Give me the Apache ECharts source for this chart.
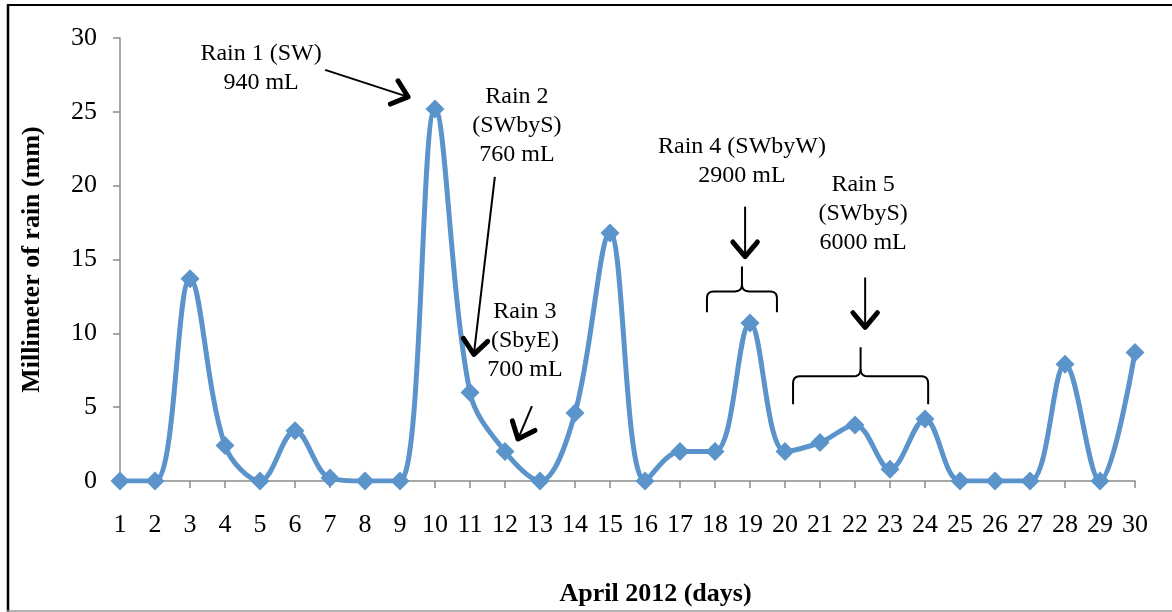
<!DOCTYPE html>
<html>
<head>
<meta charset="utf-8">
<script src="https://cdn.jsdelivr.net/npm/echarts@6/dist/echarts.min.js"></script>
<style>
  html, body { margin: 0; padding: 0; background: #fff; }
  #chart { width: 1172px; height: 612px; }
</style>
</head>
<body>
<div id="chart"></div>
<script>
const days = [1, 2, 3, 4, 5, 6, 7, 8, 9, 10, 11, 12, 13, 14, 15, 16, 17, 18, 19, 20, 21, 22, 23, 24, 25, 26, 27, 28, 29, 30];
const rain = [0, 0, 13.7, 2.4, 0, 3.4, 0.2, 0, 0, 25.2, 6.0, 2.0, 0, 4.6, 16.8, 0, 2.0, 2.0, 10.7, 2.0, 2.6, 3.8, 0.8, 4.2, 0, 0, 0, 7.9, 0, 8.7];
const yTicks = [0, 5, 10, 15, 20, 25, 30];

// notes placed in data space: [day, mm]
const noteTexts = ['Rain 1 (SW)\n940 mL', 'Rain 2\n(SWbyS)\n760 mL', 'Rain 3\n(SbyE)\n700 mL', 'Rain 4 (SWbyW)\n2900 mL', 'Rain 5\n(SWbyS)\n6000 mL'];
const noteAt = [[5.03, 27.94], [12.34, 24.05], [12.57, 9.53], [18.77, 21.66], [22.23, 18.1]];
const arrows = [[6.86, 27.84, 9.23, 26.01], [11.71, 20.6, 11.11, 8.58], [12.77, 5.07, 12.37, 2.84], [18.86, 18.58, 18.86, 15.2], [22.29, 13.78, 22.29, 10.41]];
// x1, x2, tip, middle, bottom
const braces = [[17.77, 19.77, 14.53, 12.84, 11.42], [20.23, 24.09, 9.05, 7.09, 5.2]];

const font = 'Liberation Serif, Times New Roman, serif';
const chart = echarts.init(document.getElementById('chart'));

chart.setOption({
  animation: false,
  grid: { left: 120, right: 37, top: 38, bottom: 130, containLabel: false },
  xAxis: {
    type: 'value',
    min: 1,
    max: 30,
    interval: 1,
    name: 'April 2012 (days)',
    nameLocation: 'middle',
    nameGap: 100,
    nameTextStyle: { fontFamily: font, fontSize: 26, fontWeight: 'bold', color: '#000', padding: [0, 0, 0, 56] },
    axisLine: { lineStyle: { color: '#8c8c8c', width: 1.5 } },
    axisTick: { show: true, length: 7, lineStyle: { color: '#8c8c8c', width: 1.5 } },
    axisLabel: { fontFamily: font, fontSize: 26, color: '#000', margin: 31 },
    splitLine: { show: false }
  },
  yAxis: {
    type: 'value',
    min: 0,
    max: 30,
    interval: 5,
    name: 'Millimeter of rain (mm)',
    nameLocation: 'middle',
    nameGap: 75,
    nameTextStyle: { fontFamily: font, fontSize: 26, fontWeight: 'bold', color: '#000' },
    axisLine: { show: true, lineStyle: { color: '#8c8c8c', width: 1.5 } },
    axisTick: { show: true, length: 7, lineStyle: { color: '#8c8c8c', width: 1.5 } },
    axisLabel: {
      fontFamily: font, fontSize: 26, color: '#000', margin: 23,
      formatter: v => (yTicks.indexOf(v) >= 0 ? String(v) : '')
    },
    splitLine: { show: false }
  },
  series: [{
    type: 'line',
    data: days.map((d, i) => [d, rain[i]]),
    smooth: 0.35,
    symbol: 'diamond',
    symbolSize: 19,
    showAllSymbol: true,
    lineStyle: { color: '#5b93cb', width: 5 },
    itemStyle: { color: '#5b93cb' }
  }]
});

function px(x, y) {
  return chart.convertToPixel({ gridIndex: 0 }, [x, y]);
}

// points along a quadratic curve, for the brace corners
function quad(p0, c, p1) {
  const out = [];
  for (let t = 0.2; t <= 1.0001; t += 0.2) {
    const u = 1 - t;
    out.push([u * u * p0[0] + 2 * u * t * c[0] + t * t * p1[0], u * u * p0[1] + 2 * u * t * c[1] + t * t * p1[1]]);
  }
  return out;
}

const graphic = [];
// frame
graphic.push({ type: 'line', shape: { x1: 7, y1: 5, x2: 1172, y2: 5 }, style: { stroke: '#000', lineWidth: 2 } });
graphic.push({ type: 'line', shape: { x1: 8, y1: 4, x2: 8, y2: 612 }, style: { stroke: '#000', lineWidth: 2.5 } });
graphic.push({ type: 'line', shape: { x1: 7, y1: 611, x2: 1172, y2: 611 }, style: { stroke: '#999', lineWidth: 1.5 } });

noteTexts.forEach((t, i) => {
  const p = px(noteAt[i][0], noteAt[i][1]);
  graphic.push({
    type: 'text', x: p[0], y: p[1], z: 10,
    style: { text: t, font: '24px ' + font, fill: '#000', align: 'center', verticalAlign: 'middle', lineHeight: 29 }
  });
});

arrows.forEach(a => {
  const s = px(a[0], a[1]);
  const e = px(a[2], a[3]);
  const ang = Math.atan2(e[1] - s[1], e[0] - s[0]);
  const len = 19, spread = 0.7;
  graphic.push({ type: 'line', z: 10, shape: { x1: s[0], y1: s[1], x2: e[0], y2: e[1] }, style: { stroke: '#000', lineWidth: 2 } });
  graphic.push({
    type: 'polyline', z: 10,
    shape: { points: [
      [e[0] - len * Math.cos(ang - spread), e[1] - len * Math.sin(ang - spread)],
      [e[0], e[1]],
      [e[0] - len * Math.cos(ang + spread), e[1] - len * Math.sin(ang + spread)]
    ] },
    style: { stroke: '#000', lineWidth: 5, fill: null, lineJoin: 'round', lineCap: 'round' }
  });
});

braces.forEach(b => {
  const l = px(b[0], b[3]), r = px(b[1], b[3]);
  const tip = px(b[0], b[2])[1], bot = px(b[0], b[4])[1];
  const ym = l[1], x1 = l[0], x2 = r[0], xc = (x1 + x2) / 2, k = 7;
  const left = [[x1, bot], [x1, ym + k]]
    .concat(quad([x1, ym + k], [x1, ym], [x1 + k, ym]))
    .concat([[xc - k, ym]])
    .concat(quad([xc - k, ym], [xc, ym], [xc, ym - k]))
    .concat([[xc, tip]]);
  const right = [[xc, ym - k]]
    .concat(quad([xc, ym - k], [xc, ym], [xc + k, ym]))
    .concat([[x2 - k, ym]])
    .concat(quad([x2 - k, ym], [x2, ym], [x2, ym + k]))
    .concat([[x2, bot]]);
  graphic.push({ type: 'polyline', z: 10, shape: { points: left }, style: { stroke: '#000', lineWidth: 2, fill: null } });
  graphic.push({ type: 'polyline', z: 10, shape: { points: right }, style: { stroke: '#000', lineWidth: 2, fill: null } });
});

chart.setOption({ graphic: graphic });
</script>
</body>
</html>
